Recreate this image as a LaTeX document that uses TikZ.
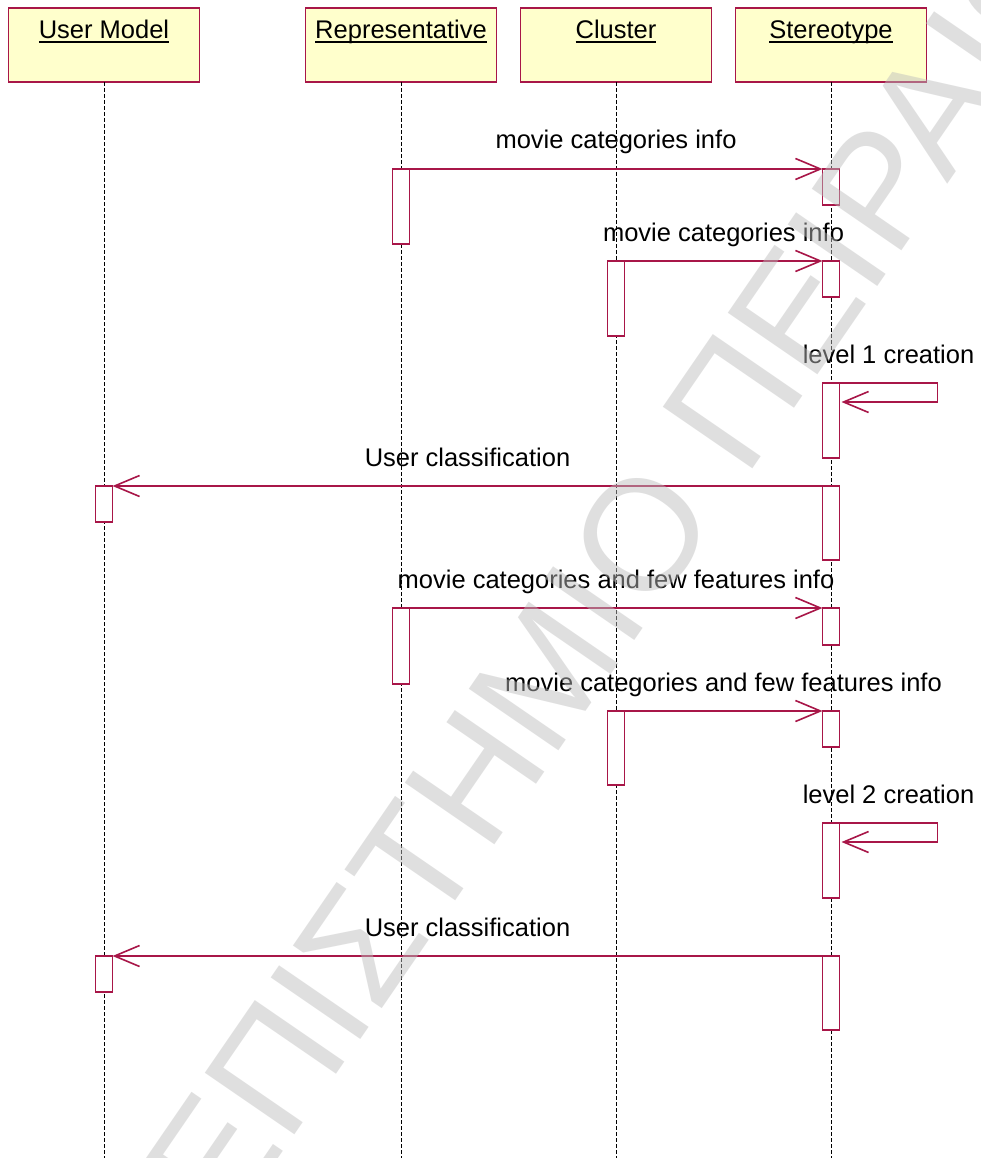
\documentclass[tikz,border=0pt]{standalone}
\usepackage{fontspec}
\setmainfont{Liberation Sans}
\usetikzlibrary{arrows.meta,calc}
\definecolor{umlred}{RGB}{168,22,72}
\definecolor{headfill}{RGB}{255,255,204}
\definecolor{wmgray}{RGB}{189,189,189}
% underlined object name with a fixed rule position
\newcommand\objname[1]{\setbox0\hbox{#1}\rlap{\rule[-4pt]{\wd0}{1.6pt}}\box0}

\begin{document}
\begin{tikzpicture}[x=1pt,y=-1pt,
  every node/.style={inner sep=0pt, outer sep=0pt},
  lifehead/.style={draw=umlred, line width=1.2pt, fill=headfill,
    minimum width=191pt, minimum height=74pt,
    text height=19pt, text depth=31pt, font=\fontsize{25.5}{30}\selectfont},
  lifeline/.style={draw=black, line width=0.9pt, dash pattern=on 4pt off 2pt},
  act/.style={draw=umlred, line width=1.2pt, fill=white, minimum width=17pt, anchor=north},
  msg/.style={draw=umlred, line width=1.1pt,
    -{Straight Barb[length=25pt,width=21pt,line width=1.6pt]}},
  lbl/.style={anchor=base, font=\fontsize{25.5}{30}\selectfont},
  wmark/.style={anchor=base west, rotate=55.5, text=wmgray, text opacity=0.475,
    font=\fontsize{158}{160}\selectfont}
]
\useasboundingbox (0,0) rectangle (980,1158);
\clip (0,0) rectangle (980,1158);
\fill[white] (0,0) rectangle (980,1158);

% object heads
\node[lifehead] (um) at (104,45) {\objname{User Model}};
\node[lifehead] (rep) at (401,45) {\objname{Representative}};
\node[lifehead] (clu) at (616,45) {\objname{Cluster}};
\node[lifehead] (ste) at (831,45) {\objname{Stereotype}};

% lifelines
\coordinate (umEnd) at (104,1158);
\coordinate (repEnd) at (401,1158);
\coordinate (cluEnd) at (616,1158);
\coordinate (steEnd) at (831,1158);
\draw[lifeline] (um.south) -- (umEnd);
\draw[lifeline] (rep.south) -- (repEnd);
\draw[lifeline] (clu.south) -- (cluEnd);
\draw[lifeline] (ste.south) -- (steEnd);

% activations
\node[act, minimum height=75pt] (r1) at (401,169) {};
\node[act, minimum height=36pt] (s1) at (831,169) {};
\node[act, minimum height=75pt] (c2) at (616,261) {};
\node[act, minimum height=36pt] (s2) at (831,261) {};
\node[act, minimum height=75pt] (s3) at (831,383) {};
\node[act, minimum height=74pt] (s4) at (831,486) {};
\node[act, minimum height=36pt] (u4) at (104,486) {};
\node[act, minimum height=76pt] (r5) at (401,608) {};
\node[act, minimum height=37pt] (s5) at (831,608) {};
\node[act, minimum height=74pt] (c6) at (616,711) {};
\node[act, minimum height=36pt] (s6) at (831,711) {};
\node[act, minimum height=75pt] (s7) at (831,823) {};
\node[act, minimum height=74pt] (s8) at (831,956) {};
\node[act, minimum height=36pt] (u8) at (104,956) {};

% messages
\draw[msg] (r1.north east) -- (s1.north west);
\node[lbl] (l1) at ($(r1.north east)!0.5!(s1.north west)+(0,-20)$) {movie categories info};

\draw[msg] (c2.north east) -- (s2.north west);
\node[lbl] (l2) at ($(c2.north east)!0.5!(s2.north west)+(0,-20)$) {movie categories info};

\coordinate (s3back) at ($(s3.north east)+(2,19)$);
\draw[msg] (s3.north east) -- ++(98,0) |- (s3back);
\node[lbl] (l3) at ($(s3.north east)+(49,-20)$) {level 1 creation};

\draw[msg] (s4.north west) -- (u4.north east);
\node[lbl] (l4) at ($(u4.north east)!0.5!(s4.north west)+(0,-20)$) {User classification};

\draw[msg] (r5.north east) -- (s5.north west);
\node[lbl] (l5) at ($(r5.north east)!0.5!(s5.north west)+(0,-20)$) {movie categories and few features info};

\draw[msg] (c6.north east) -- (s6.north west);
\node[lbl] (l6) at ($(c6.north east)!0.5!(s6.north west)+(0,-20)$) {movie categories and few features info};

\coordinate (s7back) at ($(s7.north east)+(2,19)$);
\draw[msg] (s7.north east) -- ++(98,0) |- (s7back);
\node[lbl] (l7) at ($(s7.north east)+(49,-20)$) {level 2 creation};

\draw[msg] (s8.north west) -- (u8.north east);
\node[lbl] (l8) at ($(u8.north east)!0.5!(s8.north west)+(0,-20)$) {User classification};

% watermark
\node[wmark] (wm) at (39,1507) {ΠΑΝΕΠΙΣΤΗΜΙΟ ΠΕΙΡΑΙΩΣ};
\end{tikzpicture}
\end{document}
